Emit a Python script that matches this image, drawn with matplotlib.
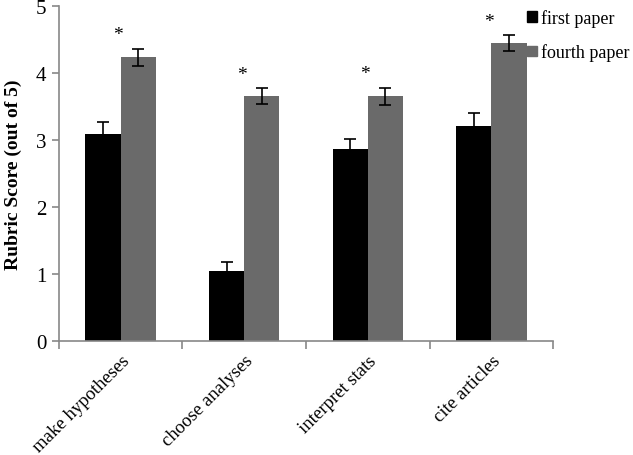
import numpy as np
import matplotlib
matplotlib.use("Agg")
import matplotlib.pyplot as plt
from matplotlib.patches import Patch

plt.rcParams['font.family'] = ['Liberation Serif', 'DejaVu Serif']

# Data
categories = ["make hypotheses", "choose analyses", "interpret stats", "cite articles"]
first_paper = [3.09, 1.05, 2.86, 3.21]
first_err = [0.17, 0.13, 0.15, 0.19]
fourth_paper = [4.23, 3.65, 3.65, 4.44]
fourth_err = [0.13, 0.12, 0.13, 0.12]
significant = [True, True, True, True]

fig = plt.figure(figsize=(6.33, 4.56), dpi=100)
ax = fig.add_axes([0.093, 0.25, 0.781, 0.735])

x = np.arange(len(categories))
w = 0.285
err_kw = dict(ecolor='black', elinewidth=1.2, capsize=4.5, capthick=1.2)
ax.bar(x - w / 2, first_paper, w, yerr=first_err, color='black', error_kw=err_kw)
ax.bar(x + w / 2, fourth_paper, w, yerr=fourth_err, color='#6a6a6a', error_kw=err_kw)

# significance stars
for i, sig in enumerate(significant):
    if sig:
        ax.text(x[i] - 0.02, fourth_paper[i] + fourth_err[i] + 0.08, "*", ha='center',
                va='bottom', fontsize=14)

ax.set_xlim(-0.5, len(categories) - 0.5)
ax.set_ylim(0, 5)
ax.set_yticks(range(6))
ax.tick_params(axis='y', labelsize=15, length=5, color='#888888', width=1.2, pad=4)

# x ticks at category boundaries, labels at centres
ax.set_xticks(np.arange(len(categories) + 1) - 0.5)
ax.set_xticklabels([])
ax.set_xticks(x, minor=True)
ax.set_xticklabels(categories, minor=True, rotation=45, ha='right',
                   rotation_mode='anchor', fontsize=13.5)
ax.tick_params(axis='x', which='major', length=6, color='#888888', width=1.2)
ax.tick_params(axis='x', which='minor', length=0, pad=8)

for s in ['top', 'right']:
    ax.spines[s].set_visible(False)
for s in ['left', 'bottom']:
    ax.spines[s].set_color('#888888')
    ax.spines[s].set_linewidth(1.2)

ax.set_ylabel("Rubric Score (out of 5)", fontsize=14, fontweight='bold', labelpad=10)

handles = [Patch(color='black'), Patch(color='#6a6a6a')]
fig.legend(handles, ["first paper", "fourth paper"], loc='upper left',
           bbox_to_anchor=(0.812, 1.005), frameon=False, fontsize=13,
           handlelength=0.55, handleheight=0.55, handletextpad=0.25,
           labelspacing=0.9, borderaxespad=0.3)

fig.savefig("out.png", dpi=100)
